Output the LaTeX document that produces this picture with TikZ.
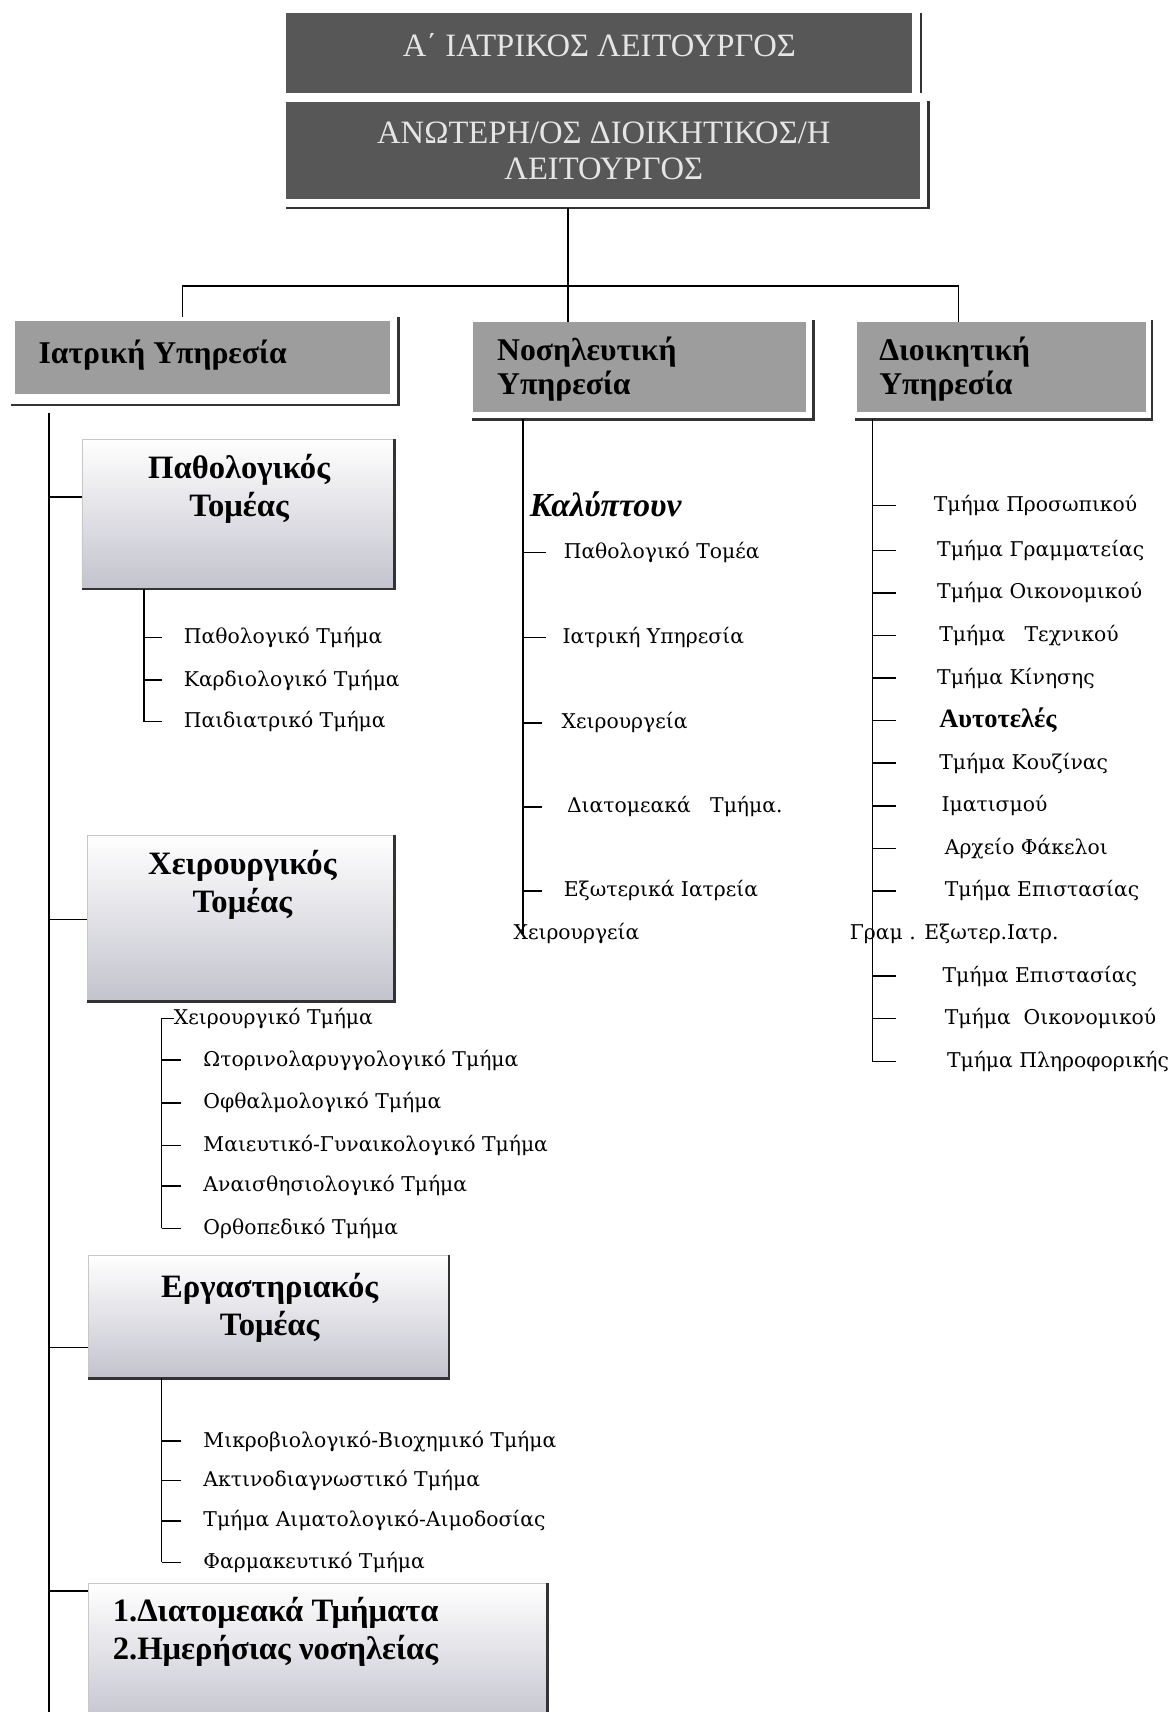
\documentclass[tikz,border=0pt]{standalone}
\usepackage{fontspec}
\setmainfont{Liberation Serif}
\newfontfamily\listfont{DejaVu Serif}
\usepackage{tikz}
\usetikzlibrary{calc}
\usetikzlibrary{fit}

\definecolor{topgray}{HTML}{575757}
\definecolor{servgray}{HTML}{9D9D9D}
\definecolor{secbottom}{HTML}{C3C3CE}

\begin{document}
\begin{tikzpicture}[
    x=0.02cm, y=-0.02cm,
    tree line/.style={line width=0.8pt},
    shadow line/.style={line width=1.3pt, black!80},
    top box/.style={fill=topgray, inner sep=0pt},
    top text/.style={text=white!90!black, align=center, inner sep=0pt, font=\fontsize{17}{18.7}\selectfont},
    serv box/.style={fill=servgray, inner sep=0pt},
    serv text/.style={anchor=west, align=left, inner sep=0pt, font=\bfseries\fontsize{16.5}{18}\selectfont},
    sector box/.style={top color=white, bottom color=secbottom, draw=black!22, inner sep=0pt},
    sector text/.style={align=center, inner sep=0pt, font=\bfseries\fontsize{17}{19.8}\selectfont},
    list text/.style={anchor=west, inner sep=0pt, font=\listfont\fontsize{10.6}{12}\selectfont}
    ]
    \useasboundingbox[fill=white] (0,0) rectangle (1073,1568);

    % top management
    \node[top box, fit={(262,12) (835,85)}] (iatlit) {};
    \node[top text] (iatlittext) at (549,41) {Α΄ ΙΑΤΡΙΚΟΣ ΛΕΙΤΟΥΡΓΟΣ};
    \draw[shadow line] ($(iatlit.north east)+(8,0)$) -- ($(iatlit.south east)+(8,0)$);
    \node[top box, fit={(262,93) (843,182)}] (anot) {};
    \node[top text] (anottext) at (553,138) {ΑΝΩΤΕΡΗ/ΟΣ ΔΙΟΙΚΗΤΙΚΟΣ/Η\\ΛΕΙΤΟΥΡΓΟΣ};
    \draw[shadow line] ($(anot.north east)+(7,0)$) -- ($(anot.south east)+(7,8)$) -- ($(anot.south west)+(0,8)$);

    % services
    \node[serv box, fit={(14,294) (357,361)}] (iat) {};
    \draw[shadow line] (10,371) -- (365,371) -- (365,290);
    \node[serv text] (iattext) at (35,325) {Ιατρική Υπηρεσία};
    \node[serv box, fit={(433,295) (738,377)}] (nos) {};
    \draw[shadow line] (432,384) -- (745,384) -- (745,293);
    \node[serv text] (nostext) at (455,338) {Νοσηλευτική\\Υπηρεσία};
    \node[serv box, fit={(785,295) (1050,377)}] (dio) {};
    \draw[shadow line] (783,384) -- (1055,384) -- (1055,293);
    \node[serv text] (diotext) at (805,338) {Διοικητική\\Υπηρεσία};

    % tree from the top
    \coordinate (hub) at (520,262);
    \coordinate (iatdrop) at (167,262);
    \coordinate (diodrop) at (878,262);
    \draw[tree line] ($(hub |- anot.south)+(0,8)$) -- (hub);
    \draw[tree line] (iatdrop) -- (diodrop);
    \draw[tree line] (iatdrop) -- (iatdrop |- 0,290);
    \draw[tree line] (hub) -- (hub |- nos.north);
    \draw[tree line] (diodrop) -- (diodrop |- dio.north);

    % medical service
    \coordinate (iatspine) at (45,378);
    \coordinate (iatbottom) at (45,1575);
    \draw[tree line] (iatspine) -- (iatbottom);

    \node[sector box, fit={(75,402) (361,539)}] (pat) {};
    \draw[shadow line] (pat.north east) -- (pat.south east) -- (pat.south west);
    \node[sector text] (pattext) at (219,448) {Παθολογικός\\Τομέας};
    \draw[tree line] (iatspine |- 0,455) -- (pat.west |- 0,455);
    \coordinate (patspine) at (132,539);
    \node[list text] (pat1) at (168,584) {Παθολογικό Τμήμα};
    \node[list text] (pat2) at (168,623) {Καρδιολογικό Τμήμα};
    \node[list text] (pat3) at (168,661) {Παιδιατρικό Τμήμα};
    \draw[tree line] (patspine) -- (patspine |- pat3);
    \draw[tree line] (patspine |- pat1) -- +(16,0);
    \draw[tree line] (patspine |- pat2) -- +(16,0);
    \draw[tree line] (patspine |- pat3) -- +(16,0);

    \node[sector box, fit={(80,765) (361,917)}] (chi) {};
    \draw[shadow line] (chi.north east) -- (chi.south east) -- (chi.south west);
    \node[sector text] (chitext) at (222,810) {Χειρουργικός\\Τομέας};
    \draw[tree line] (iatspine |- 0,842) -- (chi.west |- 0,842);
    \node[list text] (chi0) at (159,933) {Χειρουργικό Τμήμα};
    \coordinate (chispine) at (148,933);
    \node[list text] (chi1) at (186,971) {Ωτορινολαρυγγολογικό Τμήμα};
    \node[list text] (chi2) at (186,1010) {Οφθαλμολογικό Τμήμα};
    \node[list text] (chi3) at (186,1049) {Μαιευτικό-Γυναικολογικό Τμήμα};
    \node[list text] (chi4) at (186,1086) {Αναισθησιολογικό Τμήμα};
    \node[list text] (chi5) at (186,1125) {Ορθοπεδικό Τμήμα};
    \draw[tree line] (chi0.west) -- (chispine) -- (chispine |- chi5);
    \draw[tree line] (chispine |- chi1) -- +(18,0);
    \draw[tree line] (chispine |- chi2) -- +(18,0);
    \draw[tree line] (chispine |- chi3) -- +(18,0);
    \draw[tree line] (chispine |- chi4) -- +(18,0);
    \draw[tree line] (chispine |- chi5) -- +(18,0);

    \node[sector box, fit={(81,1150) (411,1262)}] (erg) {};
    \draw[shadow line] (erg.north east) -- (erg.south east) -- (erg.south west);
    \node[sector text] (ergtext) at (247,1198) {Εργαστηριακός\\Τομέας};
    \draw[tree line] (iatspine |- 0,1234) -- (erg.west |- 0,1234);
    \coordinate (ergspine) at (148,1262);
    \node[list text] (erg1) at (186,1320) {Μικροβιολογικό-Βιοχημικό Τμήμα};
    \node[list text] (erg2) at (186,1356) {Ακτινοδιαγνωστικό Τμήμα};
    \node[list text] (erg3) at (186,1393) {Τμήμα Αιματολογικό-Αιμοδοσίας};
    \node[list text] (erg4) at (186,1431) {Φαρμακευτικό Τμήμα};
    \draw[tree line] (ergspine) -- (ergspine |- erg4);
    \draw[tree line] (ergspine |- erg1) -- +(18,0);
    \draw[tree line] (ergspine |- erg2) -- +(18,0);
    \draw[tree line] (ergspine |- erg3) -- +(18,0);
    \draw[tree line] (ergspine |- erg4) -- +(18,0);

    \node[sector box, fit={(81,1450) (501,1580)}] (dia) {};
    \draw[shadow line] (dia.north east) -- (dia.south east);
    \node[sector text, anchor=west, align=left] (diatext) at (103,1495) {1.Διατομεακά Τμήματα\\2.Ημερήσιας νοσηλείας};
    \draw[tree line] (iatspine |- 0,1457) -- (dia.west |- 0,1457);

    % nursing service
    \coordinate (nosspine) at (479,384);
    \node[anchor=west, inner sep=0pt, font=\bfseries\itshape\fontsize{17.5}{18}\selectfont] (kal) at (485,462) {Καλύπτουν};
    \node[list text] (nos1) at (516,506) {Παθολογικό Τομέα};
    \node[list text] (nos2) at (515,584) {Ιατρική Υπηρεσία};
    \node[list text] (nos3) at (514,662) {Χειρουργεία};
    \node[list text] (nos4) at (519,739) {Διατομεακά\ \ \ Τμήμα.};
    \node[list text] (nos5) at (516,816) {Εξωτερικά Ιατρεία};
    \node[list text] (nos6) at (470,855) {Χειρουργεία};
    \draw[tree line] (nosspine) -- (nosspine |- nos6);
    \draw[tree line] (nosspine |- nos1) -- +(21,0);
    \draw[tree line] (nosspine |- nos2) -- +(21,0);
    \draw[tree line] (nosspine |- nos3) -- +(17,0);
    \draw[tree line] (nosspine |- nos4) -- +(17,0);
    \draw[tree line] (nosspine |- nos5) -- +(17,0);

    % administrative service
    \coordinate (diospine) at (799,384);
    \node[list text] (dio1) at (855,463) {Τμήμα Προσωπικού};
    \node[list text] (dio2) at (858,504) {Τμήμα Γραμματείας};
    \node[list text] (dio3) at (858,543) {Τμήμα Οικονομικού};
    \node[list text] (dio4) at (860,582) {Τμήμα\ \ \ Τεχνικού};
    \node[list text] (dio5) at (858,621) {Τμήμα Κίνησης};
    \node[anchor=west, inner sep=0pt, font=\bfseries\fontsize{13.8}{15}\selectfont] (dio6) at (860,660) {Αυτοτελές};
    \node[list text] (dio7) at (860,699) {Τμήμα Κουζίνας};
    \node[list text] (dio8) at (862,738) {Ιματισμού};
    \node[list text] (dio9) at (865,777) {Αρχείο Φάκελοι};
    \node[list text] (dio10) at (865,816) {Τμήμα Επιστασίας};
    \node[list text] (dio11) at (778,855) {Γραμ . Εξωτερ.Ιατρ.};
    \node[list text] (dio12) at (863,894) {Τμήμα Επιστασίας};
    \node[list text] (dio13) at (865,933) {Τμήμα\ \ Οικονομικού};
    \node[list text] (dio14) at (867,972) {Τμήμα Πληροφορικής};
    \draw[tree line] (diospine) -- (diospine |- dio14);
    \draw[tree line] (diospine |- dio1) -- +(22,0);
    \draw[tree line] (diospine |- dio2) -- +(22,0);
    \draw[tree line] (diospine |- dio3) -- +(22,0);
    \draw[tree line] (diospine |- dio4) -- +(22,0);
    \draw[tree line] (diospine |- dio5) -- +(22,0);
    \draw[tree line] (diospine |- dio6) -- +(22,0);
    \draw[tree line] (diospine |- dio7) -- +(22,0);
    \draw[tree line] (diospine |- dio8) -- +(22,0);
    \draw[tree line] (diospine |- dio9) -- +(22,0);
    \draw[tree line] (diospine |- dio10) -- +(22,0);
    \draw[tree line] (diospine |- dio12) -- +(22,0);
    \draw[tree line] (diospine |- dio13) -- +(22,0);
    \draw[tree line] (diospine |- dio14) -- +(22,0);

\end{tikzpicture}
\end{document}
